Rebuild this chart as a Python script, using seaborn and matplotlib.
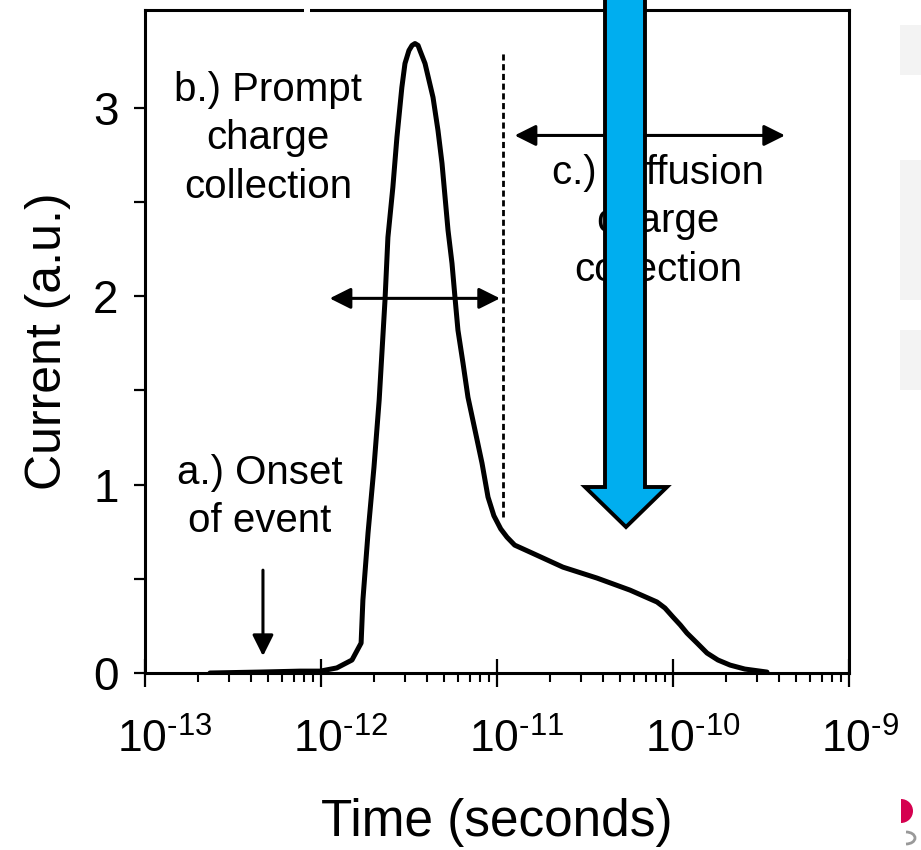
import matplotlib
matplotlib.use("Agg")
import numpy as np
import pandas as pd
import seaborn as sns
import matplotlib.pyplot as plt
import matplotlib.transforms as mtransforms
from matplotlib.patches import Polygon, Rectangle, Wedge, Arc
from matplotlib.ticker import LogLocator, NullFormatter

# ---------------- data ----------------
time_s = [2.34e-13, 4.50e-13, 7.60e-13, 9.9e-13, 1.23e-12, 1.50e-12, 1.69e-12,
          1.73e-12, 1.85e-12, 2.00e-12, 2.14e-12, 2.31e-12, 2.40e-12, 2.56e-12,
          2.70e-12, 2.88e-12, 3.00e-12, 3.16e-12, 3.29e-12, 3.42e-12, 3.56e-12,
          3.65e-12, 3.90e-12, 4.33e-12, 4.62e-12, 4.87e-12, 5.07e-12, 5.27e-12,
          5.55e-12, 5.77e-12, 6.00e-12, 6.41e-12, 6.84e-12, 7.50e-12, 8.22e-12,
          8.89e-12, 9.60e-12, 1.05e-11, 1.14e-11, 1.26e-11, 1.54e-11, 2.37e-11,
          3.70e-11, 5.70e-11, 8.11e-11, 9.00e-11, 1.00e-10, 1.10e-10, 1.20e-10,
          1.37e-10, 1.56e-10, 1.80e-10, 2.11e-10, 2.56e-10, 3.42e-10]
current_au = [0.0, 0.005, 0.01, 0.01, 0.027, 0.069, 0.159,
              0.387, 0.743, 1.093, 1.448, 1.979, 2.313, 2.578,
              2.844, 3.109, 3.236, 3.305, 3.332, 3.342, 3.332,
              3.305, 3.236, 3.056, 2.881, 2.706, 2.525, 2.350,
              2.175, 1.995, 1.820, 1.645, 1.464, 1.289, 1.114,
              0.934, 0.835, 0.765, 0.721, 0.679, 0.642, 0.562,
              0.504, 0.440, 0.377, 0.345, 0.297, 0.255, 0.212,
              0.159, 0.106, 0.069, 0.042, 0.021, 0.005]

x_tick_values = [1e-13, 1e-12, 1e-11, 1e-10, 1e-9]
x_tick_labels = [r"$\mathregular{10^{\text{-13}}}$", r"$\mathregular{10^{\text{-12}}}$",
                 r"$\mathregular{10^{\text{-11}}}$", r"$\mathregular{10^{\text{-10}}}$",
                 r"$\mathregular{10^{\text{-9}}}$"]
y_tick_values = [0, 1, 2, 3]
y_tick_labels = ["0", "1", "2", "3"]
y_minor_values = [0.5, 1.5, 2.5]

x_label = "Time (seconds)"
y_label = "Current (a.u.)"

label_a = "a.) Onset\nof event"
label_b = "b.) Prompt\ncharge\ncollection"
label_c = "c.) Diffusion\ncharge\ncollection"

# annotation anchor positions (data coords)
pos_a = (4.5e-13, 0.934)
pos_b = (5.0e-13, 2.838)
pos_c = (8.2e-11, 2.398)
onset_arrow_x = 4.68e-13
onset_arrow_y = (0.546, 0.090)
prompt_arrow_x = (1.12e-12, 1.04e-11)
prompt_arrow_y = 1.989
diff_arrow_x = (1.26e-11, 4.33e-10)
diff_arrow_y = 2.854
boundary_x = 1.08e-11
boundary_y = (0.83, 3.30)

# ---------------- style ----------------
sns.set_theme(style="ticks")
plt.rcParams["font.family"] = ["Liberation Sans", "DejaVu Sans"]
plt.rcParams["mathtext.fontset"] = "custom"
plt.rcParams["mathtext.rm"] = "Liberation Sans"
plt.rcParams["mathtext.it"] = "Liberation Sans:italic"
plt.rcParams["mathtext.bf"] = "Liberation Sans:bold"

W, H = 921, 850
fig = plt.figure(figsize=(W / 100, H / 100), dpi=100)
fig.patch.set_facecolor("white")
ax = fig.add_axes([145 / W, 1 - 673 / H, (849 - 145) / W, (673 - 10) / H])
ax.set_xscale("log")

df = pd.DataFrame({"time": time_s, "current": current_au})
sns.lineplot(data=df, x="time", y="current", ax=ax, color="black",
             linewidth=3.6, sort=False, estimator=None, zorder=3)
for ln in ax.lines:
    ln.set_solid_joinstyle("round")
    ln.set_solid_capstyle("round")

ax.set_xlim(1e-13, 1e-9)
ax.set_ylim(0, 3.52)

for s in ax.spines.values():
    s.set_color("black")
    s.set_linewidth(2.2)

ax.set_xticks(x_tick_values)
ax.set_xticklabels(x_tick_labels)
ax.xaxis.set_minor_locator(LogLocator(base=10, subs=range(2, 10), numticks=50))
ax.xaxis.set_minor_formatter(NullFormatter())
ax.set_yticks(y_tick_values)
ax.set_yticklabels(y_tick_labels)
ax.set_yticks(y_minor_values, minor=True)

ax.tick_params(axis="x", which="major", direction="inout", length=20, width=1.6,
               pad=23, labelsize=32, colors="black")
ax.tick_params(axis="x", which="minor", direction="out", length=6.5, width=1.5,
               colors="black")
ax.tick_params(axis="y", which="both", direction="out", length=8, width=1.6,
               pad=11, labelsize=33, colors="black")

offset = mtransforms.ScaledTranslation(-28 / 100, 0, fig.dpi_scale_trans)
for lab in ax.get_xticklabels():
    lab.set_horizontalalignment("left")
    lab.set_transform(lab.get_transform() + offset)

ax.set_xlabel(x_label, fontsize=37, labelpad=26, color="black")
ax.set_ylabel(y_label, fontsize=36, labelpad=16, color="black")

# ---------------- annotations ----------------
txt_kw = dict(fontsize=29, ha="center", va="center", linespacing=1.35,
              color="black", zorder=4)
ax.text(*pos_a, label_a, **txt_kw)
ax.text(*pos_b, label_b, **txt_kw)
ax.text(*pos_c, label_c, **txt_kw)

arrow_kw = dict(arrowstyle="-|>,head_length=0.4,head_width=0.2",
                mutation_scale=32, lw=2.2, color="black",
                shrinkA=0, shrinkB=0)
ax.annotate("", xy=(onset_arrow_x, onset_arrow_y[1]),
            xytext=(onset_arrow_x, onset_arrow_y[0]), arrowprops=arrow_kw,
            zorder=4)
darrow_kw = dict(arrow_kw)
darrow_kw["arrowstyle"] = "<|-|>,head_length=0.4,head_width=0.2"
ax.annotate("", xy=(prompt_arrow_x[1], prompt_arrow_y),
            xytext=(prompt_arrow_x[0], prompt_arrow_y), arrowprops=darrow_kw,
            zorder=4)
ax.annotate("", xy=(diff_arrow_x[1], diff_arrow_y),
            xytext=(diff_arrow_x[0], diff_arrow_y), arrowprops=darrow_kw,
            zorder=4)
ax.plot([boundary_x, boundary_x], boundary_y, color="black", lw=2.0,
        linestyle=(0, (2.2, 1.3)), zorder=2)


def fpx(x, y):
    return (x / W, 1 - y / H)


# big blue arrow (decorative overlay)
blue_pts = [fpx(605, -10), fpx(645, -10), fpx(645, 487), fpx(667, 487),
            fpx(626, 527), fpx(585, 487), fpx(605, 487)]
fig.add_artist(Polygon(blue_pts, closed=True, facecolor="#00AEEF",
                       edgecolor="black", linewidth=2.8, joinstyle="miter",
                       transform=fig.transFigure, zorder=10))

# small gap in the top frame
fig.add_artist(Rectangle(fpx(304, 15), 6 / W, 9 / H, facecolor="white",
                         edgecolor="none", transform=fig.transFigure, zorder=11))

# faint slide remnants at right edge
for (y0, y1) in [(25, 75), (160, 300), (330, 390)]:
    fig.add_artist(Rectangle(fpx(900, y1), 21 / W, (y1 - y0) / H,
                             facecolor="#f1f1f1", edgecolor="none", alpha=0.8,
                             transform=fig.transFigure, zorder=1))
fig.add_artist(Wedge((901, H - 811), 12, -90, 90, facecolor="#D5004F",
                     edgecolor="none", transform=None, zorder=12))
fig.add_artist(Arc((906, H - 838), 18, 12, theta1=-90, theta2=90,
                   color="#999999", lw=2, transform=None, zorder=12))

fig.savefig("out.png", dpi=100, facecolor="white")
